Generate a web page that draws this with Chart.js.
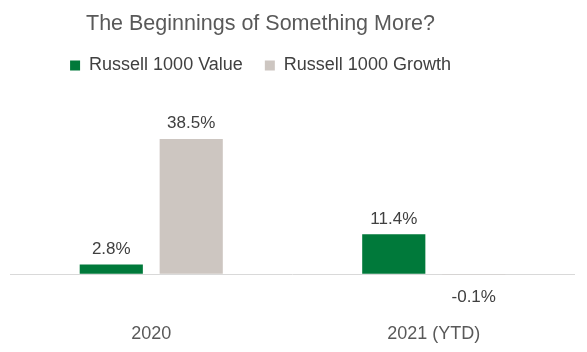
<!DOCTYPE html>
<html>
<head>
<meta charset="utf-8">
<script src="https://cdn.jsdelivr.net/npm/chart.js@4/dist/chart.umd.min.js"></script>
<style>
  html, body { margin: 0; padding: 0; background: #fff; }
  #wrap { width: 587px; height: 352px; }
</style>
</head>
<body>
<div id="wrap"><canvas id="grafica"></canvas></div>
<script>
const categorias = ['2020', '2021 (YTD)'];
const valorSerie = [2.8, 11.4];
const crecimientoSerie = [38.5, -0.1];

const fuente = '"Liberation Sans", Arial, sans-serif';

// etiquetas de valor encima (o debajo) de cada barra
const etiquetasBarras = {
    id: 'etiquetasBarras',
    afterDatasetsDraw(chart) {
        const ctx = chart.ctx;
        const cero = chart.scales.y.getPixelForValue(0);
        ctx.save();
        ctx.font = '17px ' + fuente;
        ctx.fillStyle = '#404040';
        ctx.textAlign = 'center';
        ctx.textBaseline = 'alphabetic';
        chart.data.datasets.forEach((ds, i) => {
            chart.getDatasetMeta(i).data.forEach((bar, j) => {
                const v = ds.data[j];
                const txt = v.toFixed(1) + '%';
                if (v >= 0) {
                    ctx.fillText(txt, bar.x, bar.y - 10.5);
                } else {
                    ctx.fillText(txt, bar.x, cero + 28);
                }
            });
        });
        ctx.restore();
    }
};

// el titulo y la leyenda del original estan algo corridos a la izquierda
const correrCabecera = {
    id: 'correrCabecera',
    afterLayout(chart) {
        const dx = -32;
        [chart.titleBlock, chart.legend].forEach(b => {
            if (!b) return;
            b.left += dx;
            b.right += dx;
        });
    }
};

const ctx = document.getElementById('grafica').getContext('2d');
new Chart(ctx, {
    type: 'bar',
    data: {
        labels: categorias,
        datasets: [{
            label: 'Russell 1000 Value',
            data: valorSerie,
            backgroundColor: '#00793A'
        }, {
            label: 'Russell 1000 Growth',
            data: crecimientoSerie,
            backgroundColor: '#CDC6C1'
        }]
    },
    options: {
        responsive: true,
        maintainAspectRatio: false,
        animation: false,
        categoryPercentage: 0.566,
        barPercentage: 0.79,
        layout: { padding: { left: 10, right: 12, top: 0, bottom: -7 } },
        plugins: {
            title: {
                display: true,
                text: 'The Beginnings of Something More?',
                color: '#595959',
                font: { family: fuente, size: 21.5, weight: 'normal', lineHeight: 1 },
                padding: { top: 13, bottom: 0 }
            },
            legend: {
                position: 'top',
                labels: {
                    color: '#404040',
                    boxWidth: 10,
                    boxHeight: 10,
                    padding: 22,
                    font: { family: fuente, size: 18 }
                }
            },
            tooltip: { enabled: false }
        },
        scales: {
            x: {
                grid: { display: false, drawTicks: false },
                border: { display: false },
                ticks: {
                    color: '#595959',
                    padding: 14,
                    font: { family: fuente, size: 18 }
                }
            },
            y: {
                min: -10,
                max: 54,
                ticks: { display: false, stepSize: 2 },
                border: { display: false },
                grid: {
                    drawTicks: false,
                    lineWidth: 1,
                    color: (c) => c.tick && c.tick.value === 0 ? '#D9D9D9' : 'rgba(0,0,0,0)'
                }
            }
        }
    },
    plugins: [etiquetasBarras, correrCabecera]
});
</script>
</body>
</html>
